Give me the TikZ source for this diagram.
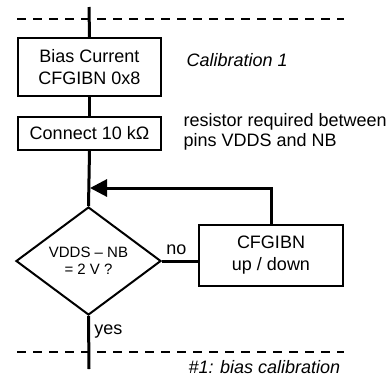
\documentclass[tikz,border=0pt]{standalone}
\usepackage{fontspec}
\setmainfont{Liberation Sans}
\usetikzlibrary{shapes.geometric,arrows.meta}

\begin{document}
\begin{tikzpicture}[x=1pt,y=-1pt,
    stepbox/.style={draw, line width=2pt, minimum width=143pt, inner sep=0pt,
        align=center, font=\fontsize{18}{22}\selectfont},
    testbox/.style={draw, diamond, line width=2pt, minimum width=145pt,
        minimum height=108pt, aspect=1.34, inner sep=0pt, align=center,
        font=\fontsize{15}{17}\selectfont},
    flow/.style={line width=3pt},
    border/.style={line width=2pt, dash pattern=on 9pt off 7pt},
    note/.style={anchor=west, align=left, font=\fontsize{18}{20}\selectfont}]

    \useasboundingbox (0,0) rectangle (391,376);

    % 1. Blocks of the flow
    \node[stepbox, minimum height=58pt] (bias) at (89.5,67) {Bias Current\\CFGIBN 0x8};
    \node[stepbox, minimum height=33pt] (conn) at (89.5,133.5) {Connect 10 kΩ};
    \node[testbox] (check) at (88.5,261) {VDDS -- NB\\= 2 V ?};
    \node[stepbox, minimum height=61pt, minimum width=144pt] (adjust) at (271,255.5) {CFGIBN\\up / down};

    % ends of the main line and the return point
    \coordinate (top) at (89,7);
    \coordinate (bottom) at (89,369);
    \coordinate (join) at (90,188);

    % 2. Section borders (dashed)
    \draw[border] (17,19) -- (344,19);
    \draw[border] (17,352) -- (344,352);

    % 3. Main line
    \draw[flow] (top) -- (bias.north);
    \draw[flow] (bias.south) -- (conn.north);
    \draw[flow] (conn.south) -- (check.north);
    \draw[flow] (check.south) -- (bottom) node[pos=0.3, right=1pt, font=\fontsize{18}{20}\selectfont] {yes};

    % 4. Loop back
    \draw[flow] (check.east) -- (check.east -| adjust.west) node[pos=0.4, above=1pt, font=\fontsize{18}{20}\selectfont] {no};
    \draw[flow, -{Triangle[length=17pt,width=17pt]}] (adjust.north) |- (join);

    % 5. Notes
    \node[note, font=\fontsize{18}{20}\selectfont\itshape] (cal) at (183,60) {Calibration 1};
    \node[note] (res) at (180,132) {resistor required between\\pins VDDS and NB};
    \node[note, font=\fontsize{18}{20}\selectfont\itshape] (sect) at (185,367) {\#1: bias calibration};

\end{tikzpicture}
\end{document}
